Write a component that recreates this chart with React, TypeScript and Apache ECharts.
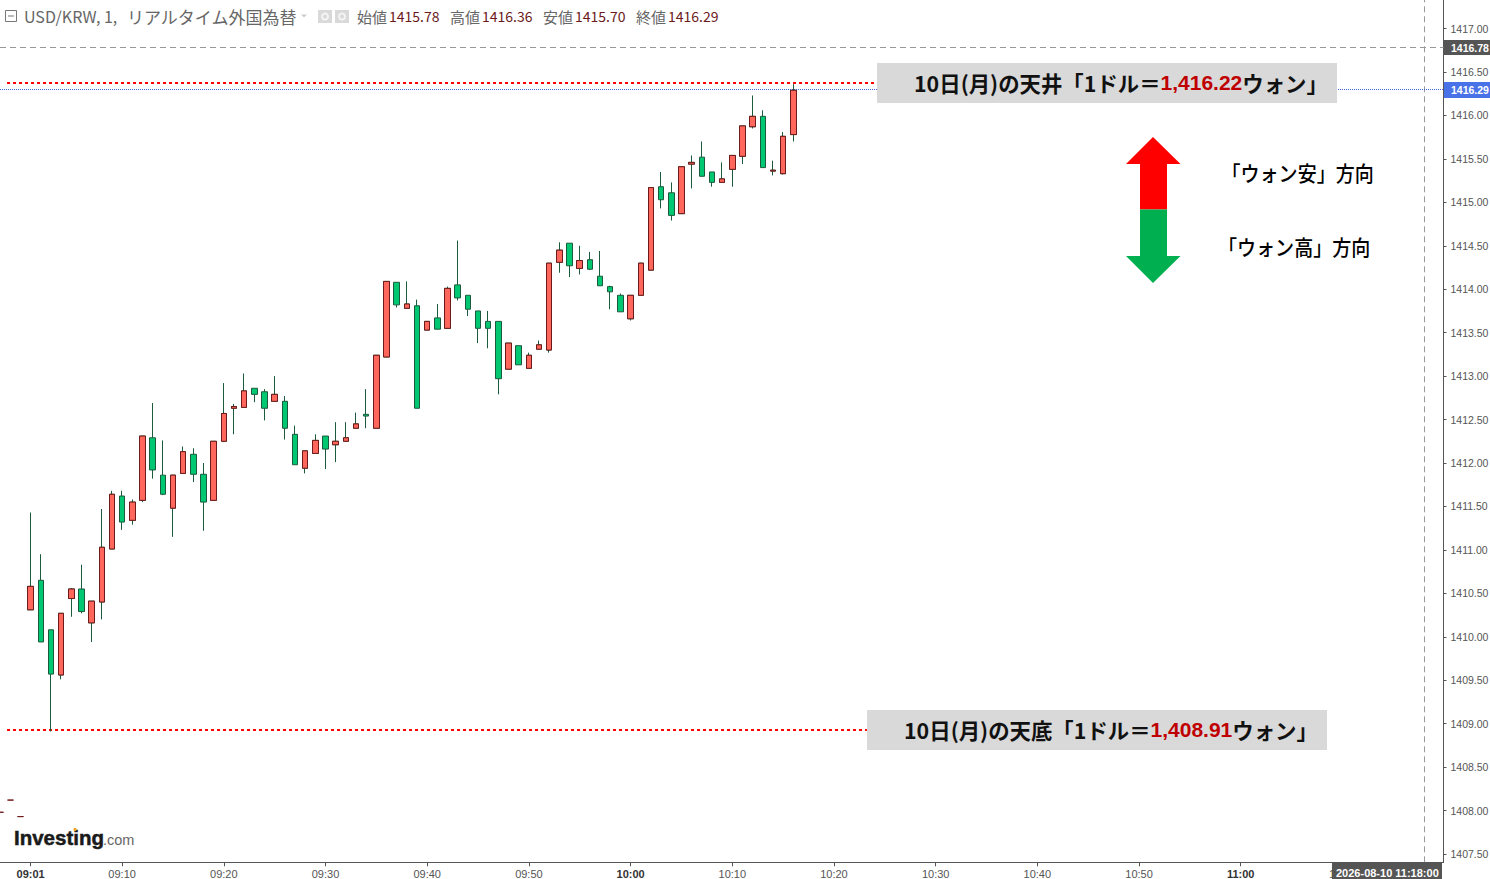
import React, { useEffect, useRef } from "react";
import * as echarts from "echarts";

const CJK = '"Noto Sans CJK JP", "Noto Sans", sans-serif';
const SANS = '"Liberation Sans", Arial, sans-serif';

// minutes since midnight of the first plotted candle: 09:01
const firstMinute = 541;
const opens = [1410.31,1410.65,1410.08,1409.56,1410.44,1410.55,1410.16,1410.40,1411.01,1411.62,1411.34,1411.57,1412.29,1411.86,1411.48,1411.88,1412.10,1411.87,1411.57,1412.25,1412.63,1412.64,1412.86,1412.82,1412.71,1412.71,1412.33,1411.94,1412.11,1412.31,1412.21,1412.25,1412.40,1412.56,1412.40,1413.22,1414.08,1413.78,1413.81,1413.53,1413.67,1413.55,1414.05,1413.93,1413.75,1413.63,1413.63,1413.08,1413.35,1413.09,1413.31,1413.30,1414.31,1414.53,1414.24,1414.34,1414.15,1414.03,1413.93,1413.66,1413.93,1414.22,1415.18,1415.11,1414.87,1415.44,1415.52,1415.35,1415.23,1415.38,1415.53,1415.87,1415.99,1415.36,1415.33,1415.78];
const closes = [1410.58,1409.94,1409.57,1410.27,1410.55,1410.29,1410.41,1411.03,1411.64,1411.32,1411.55,1412.31,1411.92,1411.64,1411.86,1412.13,1411.87,1411.55,1412.25,1412.57,1412.65,1412.83,1412.79,1412.63,1412.79,1412.40,1411.98,1412.14,1412.26,1412.16,1412.25,1412.29,1412.45,1412.54,1413.24,1414.09,1413.82,1413.83,1412.63,1413.63,1413.54,1414.01,1413.90,1413.77,1413.55,1413.55,1412.97,1413.38,1413.13,1413.24,1413.36,1414.30,1414.45,1414.27,1414.33,1414.23,1414.04,1413.97,1413.74,1413.93,1414.30,1415.17,1415.03,1414.85,1415.41,1415.46,1415.30,1415.23,1415.27,1415.54,1415.88,1415.99,1415.40,1415.37,1415.76,1416.29];
const lows = [1410.31,1409.94,1408.91,1409.51,1410.23,1410.27,1409.94,1410.20,1411.01,1411.23,1411.29,1411.55,1411.82,1411.63,1411.15,1411.88,1411.78,1411.22,1411.57,1412.24,1412.33,1412.64,1412.70,1412.49,1412.71,1412.27,1411.98,1411.88,1412.11,1411.93,1412.01,1412.25,1412.40,1412.40,1412.40,1413.22,1413.79,1413.78,1412.63,1413.53,1413.54,1413.55,1413.87,1413.69,1413.38,1413.32,1412.79,1413.08,1413.13,1413.09,1413.31,1413.27,1414.19,1414.14,1414.17,1414.22,1414.04,1413.77,1413.74,1413.64,1413.93,1414.22,1414.93,1414.79,1414.87,1415.16,1415.30,1415.18,1415.23,1415.18,1415.44,1415.85,1415.40,1415.31,1415.32,1415.70];
const highs = [1411.43,1410.95,1410.08,1410.27,1410.56,1410.83,1410.41,1411.47,1411.68,1411.68,1411.58,1412.31,1412.69,1412.26,1411.86,1412.19,1412.17,1412.00,1412.25,1412.92,1412.68,1413.03,1412.86,1412.85,1413.00,1412.77,1412.43,1412.14,1412.33,1412.31,1412.47,1412.47,1412.58,1412.85,1413.24,1414.09,1414.08,1414.09,1413.88,1413.63,1413.83,1414.03,1414.56,1413.93,1413.75,1413.75,1413.63,1413.38,1413.35,1413.27,1413.41,1414.30,1414.54,1414.53,1414.50,1414.43,1414.44,1414.04,1413.95,1413.93,1414.30,1415.17,1415.35,1415.23,1415.41,1415.54,1415.70,1415.35,1415.46,1415.54,1415.88,1416.23,1416.06,1415.48,1415.81,1416.36];

// the three flat ticks before the session's first candle
const priorMinutes = [538, 539, 540];
const priorPrices = [1407.98, 1408.12, 1407.93];

const yTicks = [1407.5,1408,1408.5,1409,1409.5,1410,1410.5,1411,1411.5,1412,1412.5,1413,1413.5,1414,1414.5,1415,1415.5,1416,1416.5,1417];
const xTicks = [541,550,560,570,580,590,600,610,620,630,640,650,660,670];
const boldXTicks = [541, 600, 660];

const lastPriceLine = 1416.3;
const crossPrice = 1416.78;
const crossMinute = 678;
const topLinePrice = 1416.3737;
const bottomLinePrice = 1408.9266;
const lineStartMinute = 538.68;
const topLineEndMinute = 624.04;
const bottomLineEndMinute = 623.24;

const headerTexts = [
  { label: "始値", value: "1415.78", lx: 357, vx: 389 },
  { label: "高値", value: "1416.36", lx: 450, vx: 482 },
  { label: "安値", value: "1415.70", lx: 543, vx: 575 },
  { label: "終値", value: "1416.29", lx: 636, vx: 668 },
];

function pad(n: number) {
  return String(n).padStart(2, "0");
}
function minuteLabel(m: number) {
  return `${pad(Math.floor(m / 60))}:${pad(m % 60)}`;
}

const candleRows = opens.map((o, i) => [firstMinute + i, o, closes[i], lows[i], highs[i]]);
const upBodyRows = opens
  .map((o, i) => [firstMinute + i, o, closes[i], o, closes[i]])
  .filter((r) => r[2] >= r[1]);
const priorRows = priorMinutes.map((m, i) => [m, priorPrices[i], priorPrices[i], priorPrices[i], priorPrices[i]]);

function annotationText(x: number, y: number, price: string, word: string) {
  const base = { fontFamily: CJK, fontWeight: "bold", fontSize: 21.4, fill: "#111", color: "#111", lineHeight: 30 };
  return {
    type: "text",
    z: 110,
    x,
    y,
    style: {
      text: `{a|10日(月)の${word}「1ドル＝}{r|${price}}{a|ウォン」}`,
      verticalAlign: "middle",
      rich: {
        a: base,
        r: { ...base, fontFamily: SANS, fontSize: 21, fill: "#c00000", color: "#c00000" },
      },
    },
  };
}

function directionText(x: number, y: number, word: string) {
  return {
    type: "text",
    z: 110,
    x,
    y,
    scaleX: 0.907,
    style: { text: `「ウォン${word}」方向`, fontFamily: CJK, fontSize: 21, fontWeight: 500, fill: "#000", verticalAlign: "middle" },
  };
}

function buildGraphics() {
  const g: any[] = [];
  // header
  g.push({ type: "rect", z: 110, shape: { x: 5.5, y: 10.5, width: 11, height: 11 }, style: { fill: "#fff", stroke: "#777", lineWidth: 1 } });
  g.push({ type: "line", z: 111, shape: { x1: 8, y1: 16, x2: 14, y2: 16 }, style: { stroke: "#777", lineWidth: 1 } });
  g.push({ type: "text", z: 110, x: 24, y: 16, style: { text: "USD/KRW, 1,", fontFamily: CJK, fontSize: 16, fill: "#666", verticalAlign: "middle" } });
  g.push({ type: "text", z: 110, x: 127, y: 16, style: { text: "リアルタイム外国為替", fontFamily: CJK, fontSize: 17, fill: "#666", verticalAlign: "middle" } });
  g.push({ type: "polygon", z: 110, shape: { points: [[301, 14.5], [307, 14.5], [304, 17.5]] }, style: { fill: "#ccc" } });
  [318, 335].forEach((x) => {
    g.push({ type: "rect", z: 110, shape: { x, y: 10, width: 14, height: 13 }, style: { fill: "#d9d9d9" } });
    g.push({ type: "circle", z: 111, shape: { cx: x + 7, cy: 16.5, r: 4 }, style: { fill: "#f4f4f4" } });
    g.push({ type: "circle", z: 112, shape: { cx: x + 7, cy: 16.5, r: 2 }, style: { fill: "#d9d9d9" } });
  });
  headerTexts.forEach((h) => {
    g.push({ type: "text", z: 110, x: h.lx, y: 16, style: { text: h.label, fontFamily: CJK, fontSize: 15, fill: "#666", verticalAlign: "middle" } });
    g.push({ type: "text", z: 110, x: h.vx, y: 16, style: { text: h.value, fontFamily: CJK, fontSize: 14, fill: "#6b1a1a", verticalAlign: "middle" } });
  });

  // annotation boxes
  g.push({ type: "rect", z: 105, shape: { x: 877, y: 63, width: 460, height: 40 }, style: { fill: "#d9d9d9" } });
  g.push(annotationText(914, 82.5, "1,416.22", "天井"));
  g.push({ type: "rect", z: 105, shape: { x: 867, y: 710, width: 460, height: 40 }, style: { fill: "#d9d9d9" } });
  g.push(annotationText(904, 729.5, "1,408.91", "天底"));

  // double arrow
  g.push({ type: "polygon", z: 105, shape: { points: [[1153, 137], [1180.5, 164], [1167, 164], [1167, 209.5], [1140, 209.5], [1140, 164], [1126, 164]] }, style: { fill: "#ff0000" } });
  g.push({ type: "polygon", z: 105, shape: { points: [[1140, 209.5], [1167, 209.5], [1167, 256], [1180.5, 256], [1153, 283], [1126, 256], [1140, 256]] }, style: { fill: "#00b050" } });
  g.push(directionText(1221.5, 172.5, "安"));
  g.push(directionText(1218, 246.5, "高"));

  // price / time tags on the axes
  g.push({ type: "rect", z: 110, shape: { x: 1444, y: 40, width: 46, height: 15 }, style: { fill: "#555" } });
  g.push({ type: "text", z: 111, x: 1451, y: 48, style: { text: "1416.78", fontFamily: SANS, fontSize: 10.5, fontWeight: "bold", fill: "#fff", verticalAlign: "middle" } });
  g.push({ type: "rect", z: 110, shape: { x: 1444, y: 82, width: 46, height: 16 }, style: { fill: "#4a72e8" } });
  g.push({ type: "text", z: 111, x: 1451, y: 90, style: { text: "1416.29", fontFamily: SANS, fontSize: 10.5, fontWeight: "bold", fill: "#fff", verticalAlign: "middle" } });
  g.push({ type: "rect", z: 110, shape: { x: 1332, y: 862.5, width: 110, height: 16.5 }, style: { fill: "#555" } });
  g.push({ type: "text", z: 111, x: 1336, y: 873, style: { text: "2026-08-10 11:18:00", fontFamily: SANS, fontSize: 11, fontWeight: "bold", fill: "#fff", verticalAlign: "middle" } });

  // logo
  g.push({ type: "text", z: 110, x: 14, y: 837.5, style: { text: "Investing", fontFamily: SANS, fontSize: 20.5, fontWeight: "bold", fill: "#1a1a1a", stroke: "#1a1a1a", lineWidth: 0.5, verticalAlign: "middle" } });
  g.push({ type: "text", z: 110, x: 103, y: 840, style: { text: ".com", fontFamily: SANS, fontSize: 14.5, fill: "#666", verticalAlign: "middle" } });
  g.push({ type: "circle", z: 111, shape: { cx: 75, cy: 829.5, r: 1.6 }, style: { fill: "#f5a623" } });
  return g;
}

export default function App() {
  const ref = useRef<HTMLDivElement>(null);
  useEffect(() => {
    document.body.style.margin = "0";
    document.body.style.overflow = "hidden";
    const chart = echarts.init(ref.current!, undefined, { renderer: "svg" });
    chart.setOption({
      animation: false,
      backgroundColor: "#fff",
      grid: { left: 0, right: 46.5, top: 0, height: 862.3, containLabel: false, outerBoundsMode: "none" },
      xAxis: {
        type: "value",
        min: 537.99,
        max: 679.94,
        scale: true,
        splitLine: { show: false },
        axisLine: { onZero: false, lineStyle: { color: "#555", width: 1 } },
        axisTick: { length: 4, lineStyle: { color: "#555" }, customValues: xTicks },
        axisLabel: {
          customValues: xTicks,
          margin: 6,
          fontFamily: SANS,
          fontSize: 11,
          color: "#555",
          showMinLabel: true,
          showMaxLabel: true,
          formatter: (v: number) => {
            const t = minuteLabel(Math.round(v));
            return boldXTicks.includes(Math.round(v)) ? `{b|${t}}` : t;
          },
          rich: { b: { fontFamily: SANS, fontSize: 11, fontWeight: "bold", color: "#333" } },
        },
      },
      yAxis: {
        type: "value",
        position: "right",
        min: 1407.404,
        max: 1417.329,
        scale: true,
        splitLine: { show: false },
        axisLine: { show: true, onZero: false, lineStyle: { color: "#555", width: 1 } },
        axisTick: { show: true, length: 3, lineStyle: { color: "#555" }, customValues: yTicks },
        axisLabel: {
          customValues: yTicks,
          margin: 7,
          fontFamily: SANS,
          fontSize: 10.5,
          color: "#555",
          formatter: (v: number) => v.toFixed(2),
        },
      },
      graphic: { elements: buildGraphics() },
      series: [
        {
          type: "candlestick",
          name: "USD/KRW",
          data: candleRows,
          encode: { x: 0, y: [1, 2, 3, 4] },
          barWidth: 6,
          z: 5,
          silent: true,
          itemStyle: { color: "#ff675c", color0: "#00c772", borderColor: "#1b5a3c", borderColor0: "#1b5a3c", borderColorDoji: "#1b5a3c", borderWidth: 1 },
          markLine: {
            silent: true,
            symbol: "none",
            label: { show: false },
            animation: false,
            data: [
              { yAxis: crossPrice, lineStyle: { color: "#999", type: [6, 4], width: 1 } },
              { xAxis: crossMinute, lineStyle: { color: "#999", type: [6, 4], width: 1 } },
              { yAxis: lastPriceLine, lineStyle: { color: "#3f66e0", type: [1, 1], width: 1 } },
              [
                { coord: [lineStartMinute, topLinePrice], lineStyle: { color: "#ff0000", type: [3, 3], width: 2 } },
                { coord: [topLineEndMinute, topLinePrice] },
              ],
              [
                { coord: [lineStartMinute, bottomLinePrice], lineStyle: { color: "#ff0000", type: [3, 3], width: 2 } },
                { coord: [bottomLineEndMinute, bottomLinePrice] },
              ],
            ],
          },
        },
        {
          type: "candlestick",
          name: "up bodies",
          data: upBodyRows,
          encode: { x: 0, y: [1, 2, 3, 4] },
          barWidth: 6,
          z: 6,
          silent: true,
          itemStyle: { color: "#ff675c", color0: "#ff675c", borderColor: "#6e1a1a", borderColor0: "#6e1a1a", borderColorDoji: "#6e1a1a", borderWidth: 1 },
        },
        {
          type: "candlestick",
          name: "prior ticks",
          data: priorRows,
          encode: { x: 0, y: [1, 2, 3, 4] },
          barWidth: 7,
          z: 6,
          silent: true,
          itemStyle: { color: "#6e1a1a", color0: "#6e1a1a", borderColor: "#6e1a1a", borderColor0: "#6e1a1a", borderColorDoji: "#6e1a1a", borderWidth: 1 },
        },
      ],
    });
    return () => chart.dispose();
  }, []);
  return <div ref={ref} style={{ width: 1490, height: 879 }} />;
}
